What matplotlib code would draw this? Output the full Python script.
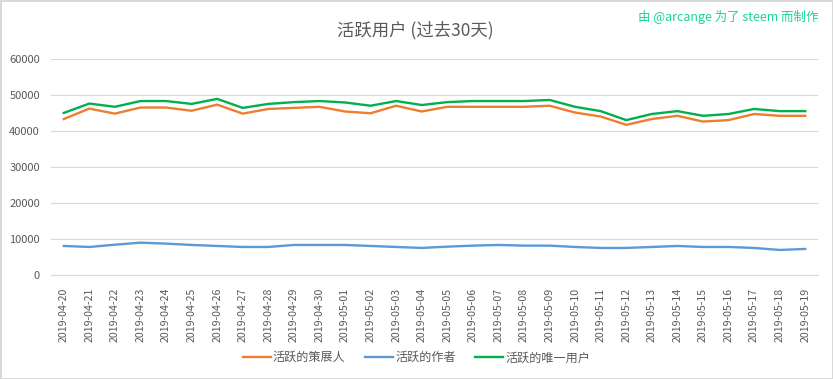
import matplotlib.pyplot as plt
import numpy as np

plt.rcParams['font.family'] = ['Noto Sans CJK SC', 'DejaVu Sans']

dates = ['2019-04-20', '2019-04-21', '2019-04-22', '2019-04-23', '2019-04-24',
         '2019-04-25', '2019-04-26', '2019-04-27', '2019-04-28', '2019-04-29',
         '2019-04-30', '2019-05-01', '2019-05-02', '2019-05-03', '2019-05-04',
         '2019-05-05', '2019-05-06', '2019-05-07', '2019-05-08', '2019-05-09',
         '2019-05-10', '2019-05-11', '2019-05-12', '2019-05-13', '2019-05-14',
         '2019-05-15', '2019-05-16', '2019-05-17', '2019-05-18', '2019-05-19']

curators = [43400, 46300, 44900, 46600, 46600, 45700, 47400, 44900, 46200, 46500,
            46800, 45500, 45000, 47100, 45500, 46800, 46800, 46800, 46800, 47100,
            45200, 44100, 41800, 43400, 44300, 42700, 43100, 44800, 44300, 44300]
authors = [8150, 7870, 8500, 9070, 8800, 8430, 8150, 7870, 7870, 8430,
           8430, 8430, 8150, 7870, 7600, 7960, 8240, 8430, 8240, 8240,
           7870, 7600, 7600, 7870, 8150, 7870, 7870, 7600, 7040, 7320]
unique_users = [45100, 47700, 46800, 48400, 48400, 47600, 49000, 46500, 47600, 48100,
                48400, 48000, 47100, 48400, 47300, 48100, 48400, 48400, 48400, 48700,
                46800, 45600, 43100, 44800, 45600, 44300, 44800, 46200, 45600, 45600]

labels = ['活跃的策展人', '活跃的作者', '活跃的唯一用户']
colors = ['#ED7D31', '#5B9BD5', '#00B050']

fig = plt.figure(figsize=(8.33, 3.79), dpi=100)
fig.patch.set_edgecolor('#D9D9D9')
fig.patch.set_linewidth(1)
ax = fig.add_axes([0.0612, 0.2736, 0.9208, 0.57])

x = np.arange(len(dates))
for vals, lab, c in zip([curators, authors, unique_users], labels, colors):
    ax.plot(x, vals, color=c, lw=1.7, label=lab, solid_joinstyle='round')

ax.set_xlim(-0.5, len(dates) - 0.5)
ax.set_ylim(0, 60000)
ax.set_yticks(range(0, 60001, 10000))
ax.set_xticks(x)
ax.set_xticklabels(dates, rotation=90)
ax.grid(axis='y', color='#D9D9D9', lw=0.8)
ax.set_axisbelow(True)
for s in ['top', 'right', 'left']:
    ax.spines[s].set_visible(False)
ax.spines['bottom'].set_color('#D9D9D9')
ax.tick_params(axis='both', length=0, colors='#595959')
ax.tick_params(axis='x', labelsize=7.6, pad=9)
ax.tick_params(axis='y', labelsize=8, pad=8)

fig.text(0.498, 0.92, '活跃用户 (过去30天)', ha='center', va='center',
         fontsize=12.5, color='#595959')
fig.text(0.982, 0.955, '由 @arcange 为了 steem 而制作', ha='right', va='center',
         fontsize=9, color='#19D39A')

fig.legend(loc='center', bbox_to_anchor=(0.5, 0.056), ncol=3, frameon=False,
           fontsize=8.7, handlelength=2.3, columnspacing=1.6, handletextpad=0.2,
           labelcolor='#595959')

fig.savefig('out.png', dpi=100)
